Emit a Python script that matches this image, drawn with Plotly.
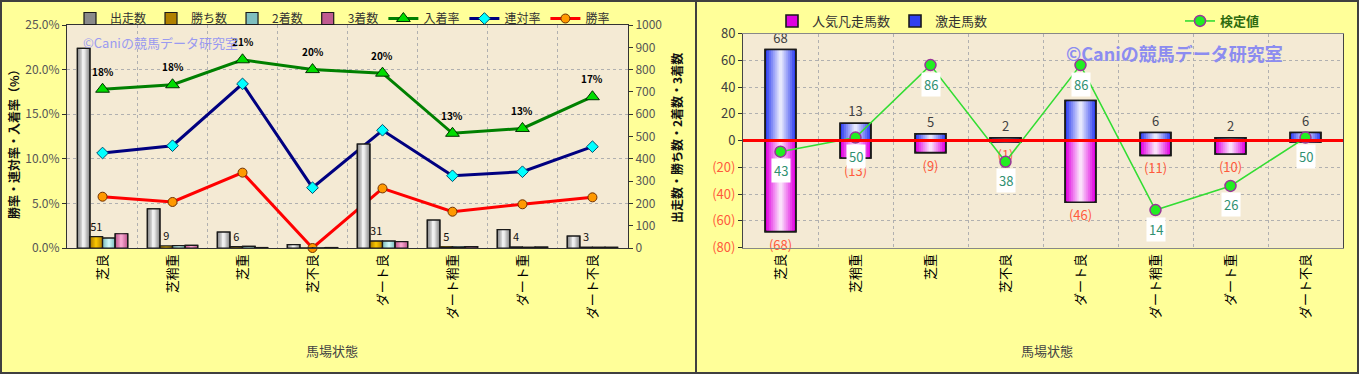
import plotly.graph_objects as go

# ---------------- data ----------------
categories = ["芝良", "芝稍重", "芝重", "芝不良", "ダート良", "ダート稍重", "ダート重", "ダート不良"]

starts = [895, 175, 71, 15, 466, 125, 82, 53]          # 出走数
wins = [51, 9, 6, 0, 31, 5, 4, 3]                      # 勝ち数
seconds = [44, 11, 7, 1, 31, 5, 3, 3]                  # 2着数
thirds = [64, 12, 2, 2, 29, 6, 4, 3]                   # 3着数
win_labels = ["51", "9", "6", "", "31", "5", "4", "3"]

place_rate = [0.178, 0.183, 0.211, 0.200, 0.196, 0.1286, 0.134, 0.1696]   # 入着率
rentai_rate = [0.1065, 0.1147, 0.184, 0.0676, 0.132, 0.081, 0.0855, 0.1136]  # 連対率
win_rate = [0.0575, 0.0516, 0.0845, 0.0, 0.0668, 0.0407, 0.0490, 0.0568]  # 勝率

gekiso = [68, 13, 5, 2, 30, 6, 2, 6]                    # 激走馬数
bonso = [-68, -13, -9, -1, -46, -11, -10, -1]           # 人気凡走馬数 (negative side)
kentei = [43, 50, 86, 38, 86, 14, 26, 50]               # 検定値

right_tickvals = [80, 60, 40, 20, 0, -20, -40, -60, -80]
right_ticktext = ["80", "60", "40", "20", "0",
                  "<span style='color:#FF5A3C'>(20)</span>",
                  "<span style='color:#FF5A3C'>(40)</span>",
                  "<span style='color:#FF5A3C'>(60)</span>",
                  "<span style='color:#FF5A3C'>(80)</span>"]

# ---------------- helpers ----------------
W, H = 1359, 374
FONT = "Noto Sans CJK JP"


def px(x):
    return x / W


def py(y):
    return 1 - y / H


def mix(c1, c2, t):
    a = [int(c1[i:i + 2], 16) for i in (1, 3, 5)]
    b = [int(c2[i:i + 2], 16) for i in (1, 3, 5)]
    return "#" + "".join(f"{round(a[k] + (b[k] - a[k]) * t):02x}" for k in range(3))


fig = go.Figure()


def grad_bars(y, name, edge, center, offset0, width, xaxis, yaxis, legend,
              text=None, textcolor="#333", textsize=12, n=8, lw=1.2):
    for i in range(n):
        f = 1 - i / n
        w = width * f
        col = mix(edge, center, 1 - f)
        fig.add_trace(go.Bar(
            x=categories, y=y, width=w, offset=offset0 + (width - w) / 2,
            marker=dict(color=col, line=dict(width=lw if i == 0 else 0, color="#1a1a1a")),
            name=name, showlegend=(i == 0), legendgroup=name, legend=legend,
            xaxis=xaxis, yaxis=yaxis, hoverinfo="skip"))
    fig.add_trace(go.Bar(
        x=categories, y=y, width=width, offset=offset0,
        marker=dict(color="rgba(0,0,0,0)", line=dict(width=lw, color="#1a1a1a")),
        name=name, showlegend=False, legendgroup=name, legend=legend,
        xaxis=xaxis, yaxis=yaxis, hoverinfo="skip",
        text=text, textposition="outside" if text is not None else "none",
        textangle=0, constraintext="none", cliponaxis=False,
        textfont=dict(family=FONT, size=textsize, color=textcolor)))


# ---------------- left chart bars ----------------
bw = 0.18
grad_bars(starts, "出走数", "#8a8a8a", "#ffffff", -0.36, bw, "x", "y2", "legend")
grad_bars(wins, "勝ち数", "#b08000", "#ffcc00", -0.18, bw, "x", "y2", "legend",
          text=win_labels, textcolor="#111", textsize=11)
grad_bars(seconds, "2着数", "#7fbfbf", "#d8ffff", 0.0, bw, "x", "y2", "legend")
grad_bars(thirds, "3着数", "#c05a90", "#ffb0d8", 0.18, bw, "x", "y2", "legend")

# ---------------- left chart lines ----------------
fig.add_trace(go.Scatter(
    x=categories, y=place_rate, name="入着率", mode="lines+markers",
    line=dict(color="#008000", width=3),
    marker=dict(symbol="triangle-up", size=12, color="#00dd00", line=dict(color="#003300", width=1)),
    xaxis="x", yaxis="y", legend="legend", hoverinfo="skip", cliponaxis=False))
fig.add_trace(go.Scatter(
    x=categories, y=rentai_rate, name="連対率", mode="lines+markers",
    line=dict(color="#000080", width=3),
    marker=dict(symbol="diamond", size=9, color="#00ffff", line=dict(color="#005070", width=1)),
    xaxis="x", yaxis="y", legend="legend", hoverinfo="skip", cliponaxis=False))
fig.add_trace(go.Scatter(
    x=categories, y=win_rate, name="勝率", mode="lines+markers",
    line=dict(color="#ff0000", width=3),
    marker=dict(symbol="circle", size=9, color="#ff9900", line=dict(color="#703000", width=1)),
    xaxis="x", yaxis="y", legend="legend", hoverinfo="skip", cliponaxis=False))

# ---------------- right chart bars ----------------
rbw = 0.41
grad_bars(bonso, "人気凡走馬数", "#e000e0", "#ffffff", -rbw / 2, rbw, "x2", "y3", "legend2",
          text=[f"({-v})" for v in bonso], textcolor="#FF5A3C", textsize=13, lw=1.6)
grad_bars(gekiso, "激走馬数", "#3040f0", "#ffffff", -rbw / 2, rbw, "x2", "y3", "legend2",
          text=[str(v) for v in gekiso], textcolor="#404040", textsize=13, lw=1.6)

# red zero line (drawn on overlaid helper axis)
fig.add_trace(go.Scatter(
    x=[0, 1], y=[0, 0], mode="lines", line=dict(color="#ff0000", width=3),
    xaxis="x3", yaxis="y3", showlegend=False, hoverinfo="skip"))

# 検定値 line
fig.add_trace(go.Scatter(
    x=categories, y=kentei, name="検定値", mode="lines+markers",
    line=dict(color="#33dd33", width=1.6),
    marker=dict(symbol="circle", size=11, color="#22ee22", line=dict(color="#993399", width=1.5)),
    xaxis="x2", yaxis="y4", legend="legend3", hoverinfo="skip", cliponaxis=False))

# ---------------- annotations ----------------
ann = []
for c, v in zip(categories, place_rate):
    ann.append(dict(x=c, y=v, xref="x", yref="y", yshift=18, showarrow=False,
                    text=f"<b>{v:.0%}</b>",
                    font=dict(family=FONT, size=10, color="#000")))
for c, v in zip(categories, kentei):
    ann.append(dict(x=c, y=v, xref="x2", yref="y4", yshift=-19, showarrow=False,
                    text=str(v), bgcolor="#ffffff", borderpad=2,
                    font=dict(family=FONT, size=13, color="#2f9070")))


def pann(x, y, text, size, color, angle=0):
    return dict(x=px(x), y=py(y), xref="paper", yref="paper", showarrow=False,
                xanchor="center", yanchor="middle", textangle=angle,
                text=text, font=dict(family=FONT, size=size, color=color))


ann += [
    pann(160, 42, "©Caniの競馬データ研究室", 13, "#9a9af0"),
    pann(1174, 53, "<b>©Caniの競馬データ研究室</b>", 18, "#8c8cf0"),
    pann(332, 350, "馬場状態", 13, "#444"),
    pann(1047, 350, "馬場状態", 13, "#444"),
    pann(14, 141, "<b>勝率・連対率・入着率（%）</b>", 12, "#111", -90),
    pann(677, 138, "<b>出走数・勝ち数・2着数・3着数</b>", 12, "#111", -90),
]

shapes = [
    dict(type="rect", xref="paper", yref="paper", x0=px(1), x1=px(W - 1), y0=py(H - 1), y1=py(1),
         line=dict(color="#404040", width=2)),
    dict(type="line", xref="paper", yref="paper", x0=px(696), x1=px(696), y0=0, y1=1,
         line=dict(color="#404040", width=2)),
]

grid = dict(showgrid=True, gridcolor="#b0b0b0", griddash="dot", gridwidth=1)

fig.update_layout(
    width=W, height=H, margin=dict(l=0, r=0, t=0, b=0, autoexpand=False),
    paper_bgcolor="#ffff99", plot_bgcolor="#f4ead4",
    barmode="overlay", font=dict(family=FONT, color="#333"),
    annotations=ann, shapes=shapes,
    xaxis=dict(domain=[px(67), px(628)], anchor="y", type="category", tickson="boundaries",
               tickangle=-90, tickfont=dict(size=13, color="#000"), ticks="",
               showline=True, linecolor="#333", mirror=True, automargin=False, **grid),
    yaxis=dict(domain=[py(248), py(25)], anchor="x", range=[0, 0.25], dtick=0.05,
               tickformat=".1%", tickfont=dict(size=12, color="#555"),
               ticks="outside", ticklen=4, tickcolor="#333", automargin=False,
               showline=True, linecolor="#333", mirror=True, zeroline=False, **grid),
    yaxis2=dict(overlaying="y", side="right", anchor="x", range=[0, 1000], dtick=100,
                tickfont=dict(size=12, color="#555"), ticks="outside", ticklen=4, tickcolor="#333",
                showgrid=False, zeroline=False, showline=True, linecolor="#333", automargin=False),
    xaxis2=dict(domain=[px(743), px(1343)], anchor="y3", type="category", tickson="boundaries",
                tickangle=-90, tickfont=dict(size=13, color="#000"), ticks="",
                showline=True, linecolor="#888", mirror=True, automargin=False, **grid),
    yaxis3=dict(domain=[py(247.7), py(33.5)], anchor="x2", range=[-80, 80],
                tickvals=right_tickvals, ticktext=right_ticktext,
                tickfont=dict(size=13, color="#404040"), ticks="outside", ticklen=4, tickcolor="#333",
                showline=True, linecolor="#444", mirror=True, zeroline=False, automargin=False, **grid),
    xaxis3=dict(overlaying="x2", anchor="y3", range=[0, 1], visible=False),
    yaxis4=dict(overlaying="y3", anchor="x2", range=[-4.7, 101.7], visible=False),
    legend=dict(orientation="h", x=px(70), y=py(4), xanchor="left", yanchor="top",
                font=dict(family=FONT, size=12, color="#333"), bgcolor="rgba(0,0,0,0)",
                itemwidth=30, traceorder="normal"),
    legend2=dict(orientation="h", x=px(772), y=py(6), xanchor="left", yanchor="top",
                 font=dict(family=FONT, size=13, color="#333"), bgcolor="rgba(0,0,0,0)",
                 itemwidth=30),
    legend3=dict(orientation="h", x=px(1180), y=py(6), xanchor="left", yanchor="top",
                 font=dict(family=FONT, size=13, color="#2e6b10", weight="bold"),
                 bgcolor="rgba(0,0,0,0)", itemwidth=30),
)

fig.write_html("out.html")
